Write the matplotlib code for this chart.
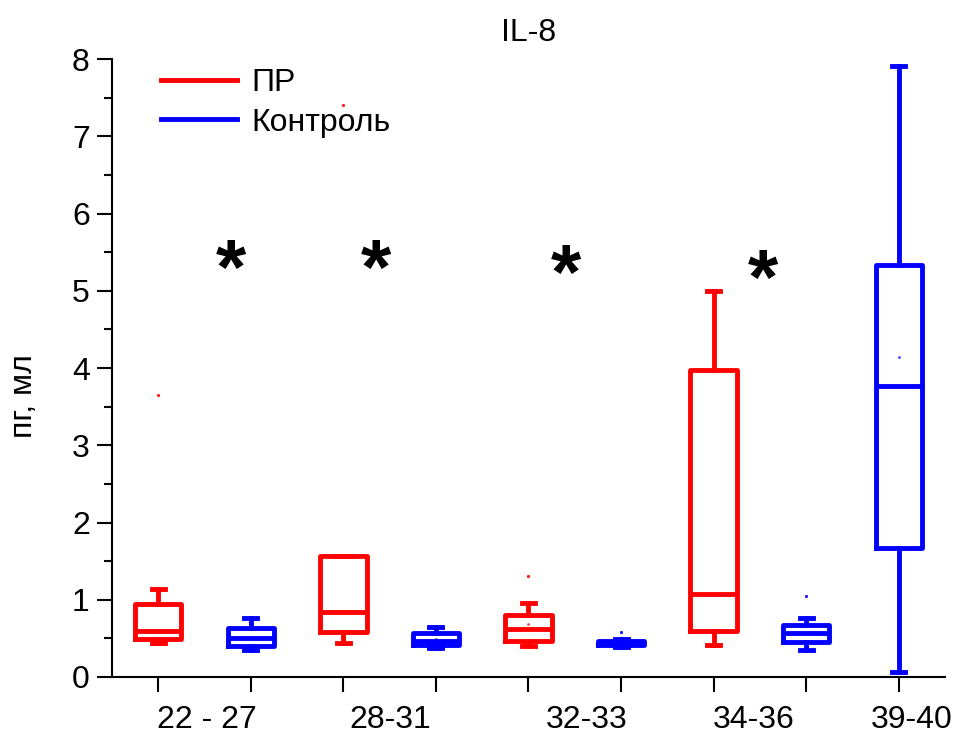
import matplotlib
matplotlib.use('Agg')
import matplotlib.pyplot as plt
from matplotlib.lines import Line2D

plt.rcParams['font.family'] = ['Liberation Sans', 'DejaVu Sans']

# box statistics, groups in plotting order (ПР / Контроль alternating)
series = ['ПР', 'Контроль', 'ПР', 'Контроль', 'ПР', 'Контроль', 'ПР', 'Контроль', 'Контроль']
q1 = [0.49, 0.40, 0.58, 0.41, 0.47, 0.42, 0.60, 0.45, 1.67]
med = [0.60, 0.50, 0.84, 0.47, 0.62, 0.44, 1.07, 0.57, 3.77]
q3 = [0.94, 0.63, 1.57, 0.57, 0.80, 0.47, 3.98, 0.67, 5.33]
whislo = [0.44, 0.35, 0.44, 0.38, 0.40, 0.39, 0.41, 0.35, 0.07]
whishi = [1.14, 0.76, 1.57, 0.65, 0.96, 0.49, 5.00, 0.76, 7.91]
outliers = [[3.65], [], [7.40], [], [1.31], [0.58], [], [1.05], []]

# mean markers that show up inside the boxes
mean_pos = [4, 5, 9]
mean_val = [0.49, 0.68, 4.14]

# significance marks
star_x = [1.78, 3.35, 5.40, 7.53]
star_y = [5.45, 5.44, 5.38, 5.32]

label_pos = [1.52, 3.51, 5.63, 7.43, 9.14]
label_txt = ['22 - 27', '28-31', '32-33', '34-36', '39-40']

colors = {'ПР': '#ff0000', 'Контроль': '#0000ff'}
fs = 23

fig = plt.figure(figsize=(9.55, 7.33), dpi=100)
ax = fig.add_axes([0.1173, 0.0764, 0.8722, 0.8431])

positions = list(range(1, len(med) + 1))
lw = 3.5
for i, p in enumerate(positions):
    c = colors[series[i]]
    st = [dict(med=med[i], q1=q1[i], q3=q3[i], whislo=whislo[i],
               whishi=whishi[i], fliers=outliers[i])]
    ax.bxp(st, positions=[p], widths=0.50, capwidths=0.14,
           showmeans=False, showfliers=True, patch_artist=False,
           boxprops=dict(color=c, linewidth=lw),
           medianprops=dict(color=c, linewidth=lw),
           whiskerprops=dict(color=c, linewidth=lw),
           capprops=dict(color=c, linewidth=lw),
           flierprops=dict(marker='s', markersize=1.2, markerfacecolor=c,
                           markeredgecolor=c, alpha=0.8))

for p, v in zip(mean_pos, mean_val):
    c = colors[series[p - 1]]
    ax.plot([p], [v], marker='s', markersize=1.0, color=c, alpha=0.6)

for x, y in zip(star_x, star_y):
    ax.text(x, y - 0.22, '*', fontsize=56, fontweight='bold', ha='center', va='center')

ax.set_xlim(0.5, 9.5)
ax.set_ylim(0, 8)

ax.set_xticks(positions)
ax.set_xticklabels([''] * len(positions))
ax.set_xticks(label_pos, minor=True)
ax.set_xticklabels(label_txt, minor=True, fontsize=fs)
ax.tick_params(axis='x', which='major', direction='out', length=11, width=1.5)
ax.tick_params(axis='x', which='minor', length=0, pad=20)

ax.set_yticks(range(0, 9))
ax.set_yticks([v + 0.5 for v in range(0, 8)], minor=True)
ax.tick_params(axis='y', which='major', direction='out', length=11, width=1.5,
               labelsize=fs, pad=5)
ax.tick_params(axis='y', which='minor', direction='out', length=6, width=1.5)

for s in ['top', 'right']:
    ax.spines[s].set_visible(False)
for s in ['left', 'bottom']:
    ax.spines[s].set_linewidth(1.5)

ax.set_ylabel('пг, мл', fontsize=fs)
ax.yaxis.set_label_coords(-0.088, 0.455)
ax.set_title('IL-8', fontsize=fs, pad=13)

handles = [Line2D([], [], color=colors[k], linewidth=lw) for k in ['ПР', 'Контроль']]
ax.legend(handles, ['ПР', 'Контроль'], loc='upper left', bbox_to_anchor=(0.024, 1.032),
          frameon=False, fontsize=fs, handlelength=2.4, handletextpad=0.45,
          labelspacing=0.3)

fig.savefig('out.png', dpi=100)
